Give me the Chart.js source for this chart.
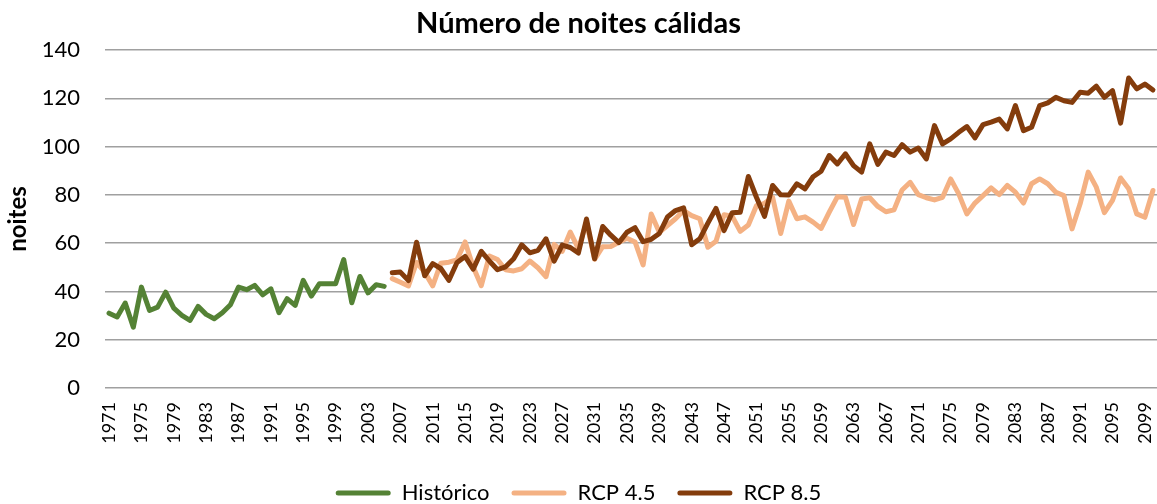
<!DOCTYPE html>
<html>
<head>
<meta charset="utf-8">
<script src="https://cdn.jsdelivr.net/npm/chart.js@4"></script>
<style>
  html, body { margin: 0; padding: 0; background: #ffffff; }
  #wrap { width: 1157px; height: 504px; position: relative; }
</style>
</head>
<body>
<div id="wrap"><canvas id="c" width="1157" height="504"></canvas></div>
<script>
// Categories (years)
const years = [
  "1971","1972","1973","1974","1975","1976","1977","1978","1979","1980",
  "1981","1982","1983","1984","1985","1986","1987","1988","1989","1990",
  "1991","1992","1993","1994","1995","1996","1997","1998","1999","2000",
  "2001","2002","2003","2004","2005","2006","2007","2008","2009","2010",
  "2011","2012","2013","2014","2015","2016","2017","2018","2019","2020",
  "2021","2022","2023","2024","2025","2026","2027","2028","2029","2030",
  "2031","2032","2033","2034","2035","2036","2037","2038","2039","2040",
  "2041","2042","2043","2044","2045","2046","2047","2048","2049","2050",
  "2051","2052","2053","2054","2055","2056","2057","2058","2059","2060",
  "2061","2062","2063","2064","2065","2066","2067","2068","2069","2070",
  "2071","2072","2073","2074","2075","2076","2077","2078","2079","2080",
  "2081","2082","2083","2084","2085","2086","2087","2088","2089","2090",
  "2091","2092","2093","2094","2095","2096","2097","2098","2099","2100"
];

// Tick labels shown on the x axis
const tickYears = [
  "1971","1975","1979","1983","1987","1991","1995","1999","2003","2007",
  "2011","2015","2019","2023","2027","2031","2035","2039","2043","2047",
  "2051","2055","2059","2063","2067","2071","2075","2079","2083","2087",
  "2091","2095","2099"
];

// Histórico 1971-2005
const historico = [
  31.0, 29.4, 35.2, 25.2, 41.8, 32.1, 33.5, 39.7, 33.1, 30.1,
  28.0, 33.8, 30.5, 28.7, 31.2, 34.5, 41.8, 40.7, 42.5, 38.6,
  41.1, 31.2, 37.0, 34.2, 44.6, 38.1, 43.2, 43.2, 43.2, 53.2,
  35.3, 46.2, 39.4, 42.8, 42.1
];

// RCP 4.5 2006-2100
const rcp45 = [
  45.3, 43.8, 42.3, 52.0, 48.0, 42.3, 51.7, 52.1, 53.1, 60.5,
  50.1, 42.4, 54.7, 53.2, 49.0, 48.5, 49.4, 52.6, 49.8, 46.1,
  59.5, 56.6, 64.6, 57.7, 68.7, 53.3, 58.5, 58.6, 60.4, 62.0,
  60.5, 51.0, 72.1, 64.5, 67.3, 70.1, 73.5, 71.4, 70.1, 58.3,
  60.8, 71.8, 71.2, 64.9, 67.5, 75.5, 76.5, 79.0, 64.0, 77.4,
  70.1, 70.9, 68.7, 66.1, 72.8, 79.2, 79.0, 67.7, 78.3, 78.8,
  75.2, 73.0, 73.8, 82.0, 85.2, 80.1, 78.8, 77.9, 79.0, 86.6,
  80.4, 72.1, 76.6, 79.7, 82.9, 80.1, 83.9, 81.1, 76.6, 84.6,
  86.6, 84.6, 81.1, 79.7, 65.9, 76.3, 89.4, 83.2, 72.6, 77.7,
  87.0, 82.5, 72.1, 70.7, 81.8
];

// RCP 8.5 2006-2100
const rcp85 = [
  47.7, 48.0, 44.5, 60.4, 46.5, 51.5, 49.5, 44.6, 52.0, 54.5,
  49.2, 56.6, 52.6, 49.0, 50.2, 53.5, 59.3, 56.0, 57.0, 61.8,
  52.5, 59.2, 58.2, 55.9, 70.0, 53.5, 66.9, 63.3, 60.2, 64.5,
  66.4, 60.6, 61.6, 64.0, 70.8, 73.5, 74.6, 59.3, 61.8, 68.3,
  74.4, 65.2, 72.6, 72.8, 87.6, 79.0, 71.1, 83.9, 80.0, 79.9,
  84.6, 82.5, 87.5, 89.8, 96.3, 92.8, 97.0, 92.1, 89.4, 101.1,
  92.6, 97.7, 96.3, 100.8, 97.7, 99.4, 94.9, 108.7, 101.1, 103.2,
  105.9, 108.3, 103.6, 109.1, 110.1, 111.4, 107.3, 117.0, 106.6, 108.0,
  117.0, 118.1, 120.4, 119.0, 118.3, 122.5, 122.1, 125.0, 120.4, 123.2,
  109.7, 128.4, 123.9, 125.9, 123.4
];

const seriesNames = ["Histórico", "RCP 4.5", "RCP 8.5"];
const seriesColors = ["#548235", "#F4B183", "#843C0C"];

// Build full-length arrays aligned on the year categories
const nHist = historico.length;
const nProj = rcp45.length;
const histFull = historico.concat(new Array(nProj).fill(null));
const r45Full = new Array(nHist).fill(null).concat(rcp45);
const r85Full = new Array(nHist).fill(null).concat(rcp85);

const PLOT_LEFT = 105;
const PLOT_BOTTOM = 388;
const PAD_BOTTOM = -10;

function mkDataset(label, data, color, order) {
  return {
    label: label,
    data: data,
    borderColor: color,
    backgroundColor: color,
    borderWidth: 5,
    borderJoinStyle: 'round',
    borderCapStyle: 'round',
    pointRadius: 0,
    pointHoverRadius: 0,
    tension: 0,
    spanGaps: false,
    fill: false,
    order: order
  };
}

new Chart(document.getElementById('c'), {
  type: 'line',
  data: {
    labels: years,
    datasets: [
      mkDataset(seriesNames[0], histFull, seriesColors[0], 3),
      mkDataset(seriesNames[1], r45Full, seriesColors[1], 2),
      mkDataset(seriesNames[2], r85Full, seriesColors[2], 1)
    ]
  },
  options: {
    responsive: false,
    animation: false,
    devicePixelRatio: 1,
    layout: { padding: { left: 0, right: 0, top: 0, bottom: PAD_BOTTOM } },
    plugins: {
      title: {
        display: true,
        text: 'Número de noites cálidas',
        color: '#000000',
        font: { family: 'Lato', size: 29, weight: 'bold', lineHeight: 1.2 },
        padding: { top: 6, bottom: 9.2 }
      },
      legend: {
        display: true,
        position: 'bottom',
        labels: {
          color: '#000000',
          font: { family: 'Lato', size: 22 },
          boxWidth: 55,
          boxHeight: 5,
          useBorderRadius: true,
          borderRadius: 2.5,
          padding: 22,
          sort: (a, b) => a.datasetIndex - b.datasetIndex,
          generateLabels: (chart) => {
            const items = Chart.defaults.plugins.legend.labels.generateLabels(chart);
            items.forEach(it => { it.fillStyle = it.strokeStyle; it.lineWidth = 0; });
            return items;
          }
        }
      },
      tooltip: { enabled: false }
    },
    scales: {
      x: {
        type: 'category',
        offset: true,
        grid: { display: false, drawTicks: false },
        border: { display: false },
        ticks: {
          autoSkip: false,
          minRotation: 90,
          maxRotation: 90,
          padding: 14,
          color: '#000000',
          font: { family: 'Lato', size: 18 },
          callback: function (value, index) {
            const lab = this.getLabelForValue(value);
            return tickYears.includes(lab) ? lab : null;
          }
        },
        afterFit: (scale) => {
          const lg = scale.chart.legend ? scale.chart.legend.height : 0;
          scale.height = 504 - PLOT_BOTTOM - lg - PAD_BOTTOM;
          scale.paddingLeft = 0;
          scale.paddingRight = 0;
        }
      },
      y: {
        min: 0,
        max: 140,
        grid: { color: '#a0a0a0', lineWidth: 1.5, drawTicks: false },
        border: { display: false },
        ticks: {
          stepSize: 20,
          padding: 25,
          color: '#000000',
          font: { family: 'Lato', size: 22 }
        },
        title: {
          display: true,
          text: 'noites',
          color: '#000000',
          font: { family: 'Lato', size: 24, weight: 'bold', lineHeight: 1.2 },
          padding: { top: 4, bottom: 4 }
        },
        afterFit: (scale) => { scale.width = PLOT_LEFT; }
      }
    }
  }
});
</script>
</body>
</html>
